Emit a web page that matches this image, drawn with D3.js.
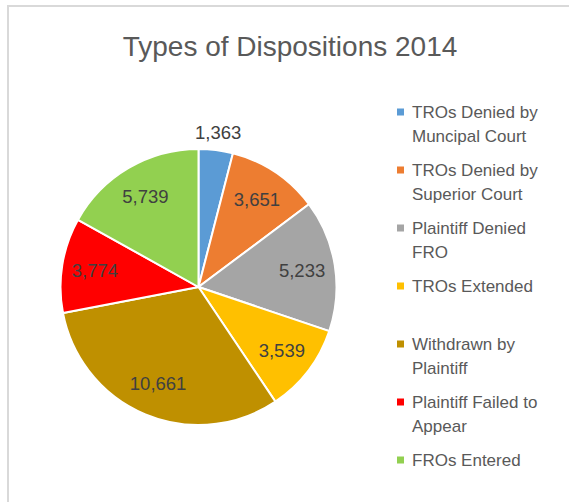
<!DOCTYPE html>
<html>
<head>
<meta charset="utf-8">
<script src="https://cdn.jsdelivr.net/npm/d3@7"></script>
<style>
  html, body { margin: 0; padding: 0; background: #fff; }
  svg { display: block; }
</style>
</head>
<body>
<svg id="chart" width="569" height="502"></svg>
<script>
const title = "Types of Dispositions 2014";
const categories = [
  ["TROs Denied by", "Muncipal Court"],
  ["TROs Denied by", "Superior Court"],
  ["Plaintiff Denied", "FRO"],
  ["TROs Extended"],
  ["Withdrawn by", "Plaintiff"],
  ["Plaintiff Failed to", "Appear"],
  ["FROs Entered"]
];
const values = [1363, 3651, 5233, 3539, 10661, 3774, 5739];
const colors = ["#5B9BD5", "#ED7D31", "#A5A5A5", "#FFC000", "#BF9000", "#FF0000", "#92D050"];

const svg = d3.select("#chart");
const W = 569, H = 502;
const font = "'Liberation Sans', Arial, sans-serif";

// border
svg.append("rect").attr("x", 8).attr("y", 6).attr("width", W).attr("height", H)
  .attr("fill", "#fff").attr("stroke", "#d9d9d9").attr("stroke-width", 2);

// title
svg.append("text").attr("x", 290).attr("y", 56).attr("text-anchor", "middle")
  .attr("font-family", font).attr("font-size", 28).attr("fill", "#595959")
  .text(title);

const cx = 198.5, cy = 287, R = 138;
const data = values.map((v, i) => ({ v, i }));
const pie = d3.pie().value(d => d.v).sort(null);
const arcs = pie(data);
const arc = d3.arc().innerRadius(0).outerRadius(R);
const labelArc = d3.arc().innerRadius(R * 0.76).outerRadius(R * 0.76);
const outArc = d3.arc().innerRadius(R * 1.13).outerRadius(R * 1.13);

const g = svg.append("g").attr("transform", `translate(${cx},${cy})`);
g.selectAll("path").data(arcs).join("path")
  .attr("d", arc)
  .attr("fill", d => colors[d.data.i])
  .attr("stroke", "#fff").attr("stroke-width", 2);

const fmt = d3.format(",");
g.selectAll("text.lbl").data(arcs).join("text").attr("class", "lbl")
  .attr("transform", d => {
    const p = (d.endAngle - d.startAngle) < 0.3 ? outArc.centroid(d) : labelArc.centroid(d);
    return `translate(${p[0]},${p[1]})`;
  })
  .attr("text-anchor", "middle").attr("dy", "0.35em")
  .attr("font-family", font).attr("font-size", 18.5).attr("fill", "#404040")
  .text(d => fmt(d.data.v));

// legend
const lx = 397, ly0 = 112, step = 58, lh = 24.5;
const leg = svg.append("g");
categories.forEach((lines, i) => {
  const y = ly0 + i * step;
  leg.append("rect").attr("x", lx).attr("y", y - 3.5).attr("width", 7).attr("height", 7)
    .attr("fill", colors[i]);
  const t = leg.append("text").attr("font-family", font).attr("font-size", 17)
    .attr("fill", "#595959");
  lines.forEach((s, j) => {
    t.append("tspan").attr("x", lx + 15).attr("y", y + j * lh).attr("dy", "0.35em").text(s);
  });
});
</script>
</body>
</html>
